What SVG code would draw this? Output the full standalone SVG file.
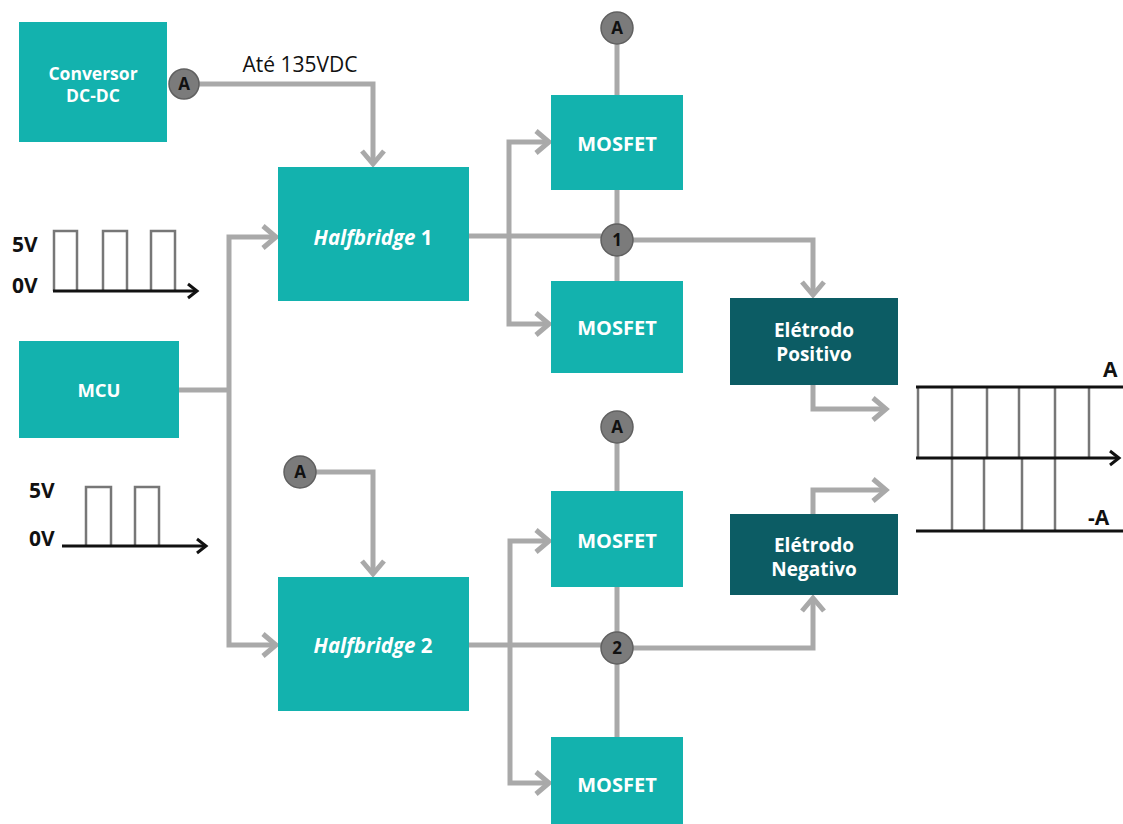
<svg xmlns="http://www.w3.org/2000/svg" width="1123" height="824" viewBox="0 0 1123 824">
  <style>
    .box { fill: #13b2ae; }
    .dark { fill: #0c5c64; }
    .lbl { font-family: "Open Sans", "Liberation Sans", sans-serif; font-weight: 700; fill: #ffffff; text-anchor: middle; }
    .wire { fill: none; stroke: #a9a9a9; stroke-width: 5; }
    .arrow { marker-end: url(#chev); }
    .dot { fill: #7b7b7b; stroke: #606060; stroke-width: 1.5; }
    .dotTxt { font-family: "Open Sans", "Liberation Sans", sans-serif; font-weight: 700; font-size: 17px; fill: #111; text-anchor: middle; }
    .volt { font-family: "Open Sans", "Liberation Sans", sans-serif; font-weight: 700; font-size: 21px; fill: #111; }
    .pulse { fill: none; stroke: #777; stroke-width: 2.5; }
    .axis { fill: none; stroke: #111; stroke-width: 3; }
  </style>
  <defs>
    <marker id="chev" markerUnits="userSpaceOnUse" markerWidth="24" markerHeight="28" refX="16" refY="13" orient="auto" overflow="visible">
      <path d="M3,2 L16,13 L3,24" fill="none" stroke="#a9a9a9" stroke-width="5"/>
    </marker>
    <marker id="blk" markerUnits="userSpaceOnUse" markerWidth="16" markerHeight="18" refX="11" refY="8" orient="auto" overflow="visible">
      <path d="M2,1 L11,8 L2,15" fill="none" stroke="#111" stroke-width="3"/>
    </marker>
  </defs>

  <rect width="1123" height="824" fill="#ffffff"/>

  <!-- connectors -->
  <g id="connectors">
    <path class="wire arrow" d="M199,84 H373 V164"/>
    <path class="wire" d="M179,390 H229"/>
    <path class="wire arrow" d="M229,390 V237 H276"/>
    <path class="wire arrow" d="M229,390 V645 H276"/>
    <path class="wire" d="M469,236 H601"/>
    <path class="wire arrow" d="M509,236 V142 H549"/>
    <path class="wire arrow" d="M509,236 V324 H549"/>
    <path class="wire" d="M617,44 V95"/>
    <path class="wire" d="M617,190 V281"/>
    <path class="wire arrow" d="M633,240 H813 V295"/>
    <path class="wire arrow" d="M813,385 V409 H886"/>
    <path class="wire arrow" d="M813,514 V490 H886"/>
    <path class="wire arrow" d="M316,472 H373 V574"/>
    <path class="wire" d="M469,645 H601"/>
    <path class="wire arrow" d="M510,645 V541 H549"/>
    <path class="wire arrow" d="M510,645 V783 H549"/>
    <path class="wire" d="M617,443 V491"/>
    <path class="wire" d="M617,587 V737"/>
    <path class="wire arrow" d="M633,648 H813 V598"/>
  </g>

  <!-- blocks -->
  <g id="conversor">
    <rect class="box" x="19" y="22" width="148" height="120"/>
    <text class="lbl" x="93" y="80" font-size="17.5">Conversor</text>
    <text class="lbl" x="93" y="102" font-size="17.5">DC-DC</text>
  </g>
  <g id="nodeA1">
    <circle class="dot" cx="184" cy="84" r="15"/>
    <text class="dotTxt" x="184" y="90">A</text>
  </g>
  <text x="300" y="72" font-family="'Open Sans', 'Liberation Sans', sans-serif" font-size="21" fill="#111" text-anchor="middle">Até 135VDC</text>

  <g id="halfbridge1">
    <rect class="box" x="278" y="167" width="191" height="134"/>
    <text class="lbl" x="373" y="245" font-size="20.5"><tspan font-style="italic">Halfbridge</tspan> 1</text>
  </g>
  <g id="halfbridge2">
    <rect class="box" x="278" y="577" width="191" height="134"/>
    <text class="lbl" x="373" y="653" font-size="20.5"><tspan font-style="italic">Halfbridge</tspan> 2</text>
  </g>
  <g id="mcu">
    <rect class="box" x="19" y="341" width="160" height="97"/>
    <text class="lbl" x="99" y="397" font-size="18.5">MCU</text>
  </g>

  <g id="mosfet1">
    <rect class="box" x="551" y="95" width="132" height="95"/>
    <text class="lbl" x="617" y="151" font-size="20">MOSFET</text>
  </g>
  <g id="mosfet2">
    <rect class="box" x="551" y="281" width="132" height="92"/>
    <text class="lbl" x="617" y="335" font-size="20">MOSFET</text>
  </g>
  <g id="mosfet3">
    <rect class="box" x="551" y="491" width="132" height="96"/>
    <text class="lbl" x="617" y="548" font-size="20">MOSFET</text>
  </g>
  <g id="mosfet4">
    <rect class="box" x="551" y="737" width="132" height="90"/>
    <text class="lbl" x="617" y="792" font-size="20">MOSFET</text>
  </g>

  <g id="nodeA2">
    <circle class="dot" cx="617" cy="28" r="16"/>
    <text class="dotTxt" x="617" y="34">A</text>
  </g>
  <g id="node1">
    <circle class="dot" cx="617" cy="240" r="16"/>
    <text class="dotTxt" x="617" y="246" font-size="14">1</text>
  </g>
  <g id="nodeA3">
    <circle class="dot" cx="617" cy="427" r="16"/>
    <text class="dotTxt" x="617" y="433">A</text>
  </g>
  <g id="node2">
    <circle class="dot" cx="617" cy="648" r="16"/>
    <text class="dotTxt" x="617" y="654" font-size="14">2</text>
  </g>
  <g id="nodeA4">
    <circle class="dot" cx="300" cy="472" r="16"/>
    <text class="dotTxt" x="300" y="478">A</text>
  </g>

  <g id="eletrodoPositivo">
    <rect class="dark" x="730" y="298" width="168" height="87"/>
    <text class="lbl" x="814" y="337" font-size="19">Elétrodo</text>
    <text class="lbl" x="814" y="361" font-size="19">Positivo</text>
  </g>
  <g id="eletrodoNegativo">
    <rect class="dark" x="730" y="514" width="168" height="81"/>
    <text class="lbl" x="814" y="552" font-size="19">Elétrodo</text>
    <text class="lbl" x="814" y="576" font-size="19">Negativo</text>
  </g>

  <!-- PWM input waveforms -->
  <g id="wave1">
    <text class="volt" x="12" y="252">5V</text>
    <text class="volt" x="12" y="293">0V</text>
    <path class="pulse" d="M54,291 V231 H77 V291 M103,291 V231 H127 V291 M151,291 V231 H175 V291"/>
    <path class="axis" d="M53,291 H197" marker-end="url(#blk)"/>
  </g>
  <g id="wave2">
    <text class="volt" x="29" y="498">5V</text>
    <text class="volt" x="29" y="546">0V</text>
    <path class="pulse" d="M86,546 V487 H111 V546 M135,546 V487 H159 V546"/>
    <path class="axis" d="M62,546 H206" marker-end="url(#blk)"/>
  </g>

  <!-- bipolar output waveform -->
  <g id="output">
    <path class="pulse" d="M918,387 V458 M952,387 V458 M987,387 V458 M1019,387 V458 M1055,387 V458 M1089,387 V458"/>
    <path class="pulse" d="M952,458 V531 M984,458 V531 M1022,458 V531 M1055,458 V531"/>
    <path class="axis" d="M916,387 H1123"/>
    <path class="axis" d="M916,531 H1123"/>
    <path class="axis" d="M916,458 H1119" marker-end="url(#blk)"/>
    <text class="volt" x="1103" y="377" font-size="19">A</text>
    <text class="volt" x="1088" y="525" font-size="19">-A</text>
  </g>
</svg>
